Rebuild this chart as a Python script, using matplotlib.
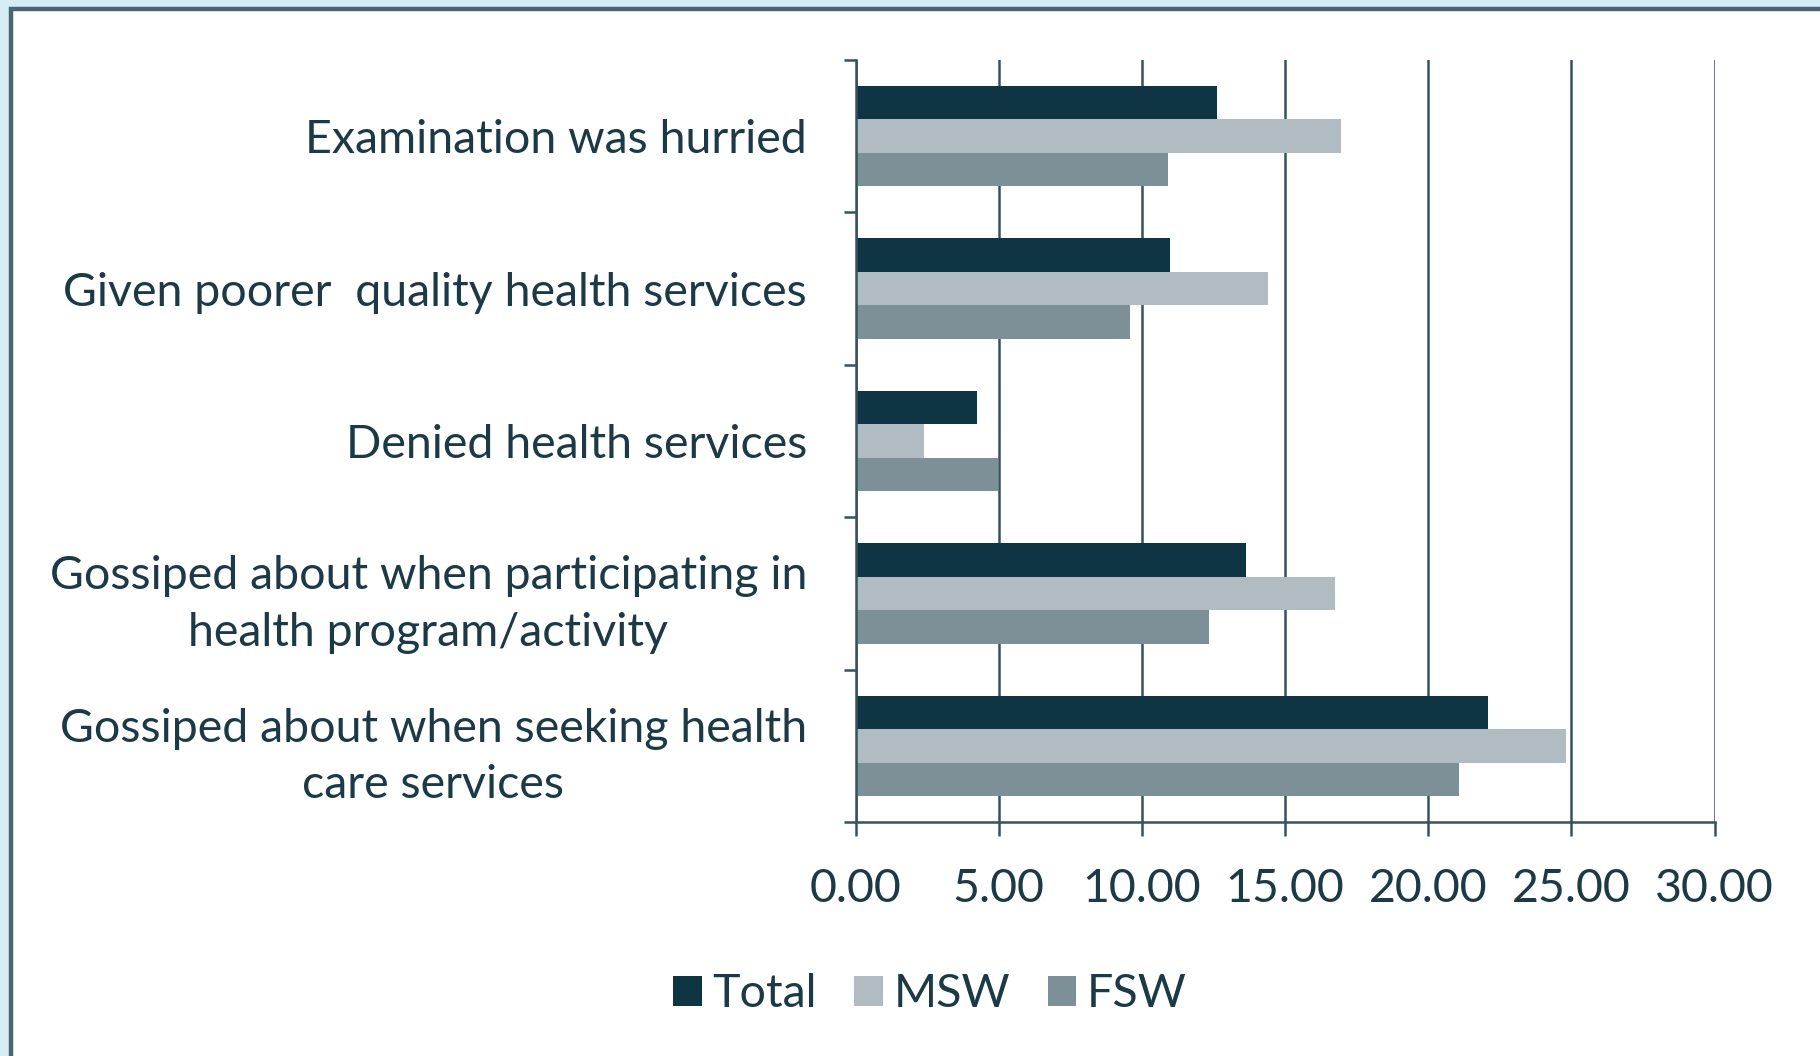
import numpy as np
import matplotlib
matplotlib.use("Agg")
import matplotlib.pyplot as plt
from matplotlib.patches import Rectangle

# survey items, top to bottom
categories = [
    "Examination was hurried",
    "Given poorer  quality health services",
    "Denied health services",
    "Gossiped about when participating in\nhealth program/activity",
    "Gossiped about when seeking health\ncare services",
]
series = ["Total", "MSW", "FSW"]
total = [12.62, 11.00, 4.26, 13.64, 22.09]
msw = [16.95, 14.40, 2.38, 16.76, 24.80]
fsw = [10.91, 9.57, 4.97, 12.36, 21.08]
xticks = [0, 5, 10, 15, 20, 25, 30]

colors = ["#0f3443", "#b1bcc2", "#7e9097"]
ink = "#1c3946"
grid_c = "#34535f"
fs = 33.5

plt.rcParams["font.family"] = ["Lato", "DejaVu Sans"]

fig = plt.figure(figsize=(18.2, 10.56), dpi=100)
fig.patch.set_facecolor("#d5ecf3")

# white panel with dark frame, kept behind the axes
panel = Rectangle((11 / 1820, -0.05), 1.1, 1 - 9 / 1056 + 0.05,
                  transform=fig.transFigure, facecolor="white",
                  edgecolor="#4a6571", linewidth=3.2, zorder=-5)
fig.patches.append(panel)

ax = fig.add_axes([855.5 / 1820, 1 - 822 / 1056,
                   (1714.5 - 855.5) / 1820, (822 - 60) / 1056])
ax.set_facecolor("none")
ax.set_zorder(2)

n = len(categories)
pos = np.arange(n)[::-1]
h = 0.22
for i, (vals, c) in enumerate(zip([total, msw, fsw], colors)):
    ax.barh(pos + (1 - i) * h, vals, height=h, color=c, label=series[i],
            edgecolor=c, linewidth=0, zorder=3)

ax.set_xlim(0, 30)
ax.set_ylim(-0.5, n - 0.5)
ax.set_xticks(xticks)
ax.set_xticklabels([f"{v:.2f}" for v in xticks], fontsize=fs, color=ink)
ax.xaxis.grid(True, color=grid_c, linewidth=1.8, zorder=1)
ax.tick_params(axis="x", length=10, width=1.8, color=grid_c, pad=23)

ax.set_yticks(pos)
ax.set_yticklabels(categories, fontsize=fs, color=ink,
                   multialignment="center", linespacing=1.42)
ax.set_yticks(np.arange(-0.5, n, 1.0), minor=True)
ax.tick_params(axis="y", which="major", length=0, pad=35)
ax.tick_params(axis="y", which="minor", length=9, width=1.8, color=grid_c)

for s in ["top", "right"]:
    ax.spines[s].set_visible(False)
for s in ["left", "bottom"]:
    ax.spines[s].set_color(grid_c)
    ax.spines[s].set_linewidth(1.8)
    ax.spines[s].set_zorder(4)

leg = ax.legend(loc="center", bbox_to_anchor=(930 / 1820, 1 - 994 / 1056),
                bbox_transform=fig.transFigure, ncol=3, frameon=False,
                fontsize=fs, handlelength=0.62, handleheight=0.62,
                handletextpad=0.23, columnspacing=0.8)
for t in leg.get_texts():
    t.set_color(ink)

fig.savefig("out.png", dpi=100, facecolor=fig.get_facecolor())
